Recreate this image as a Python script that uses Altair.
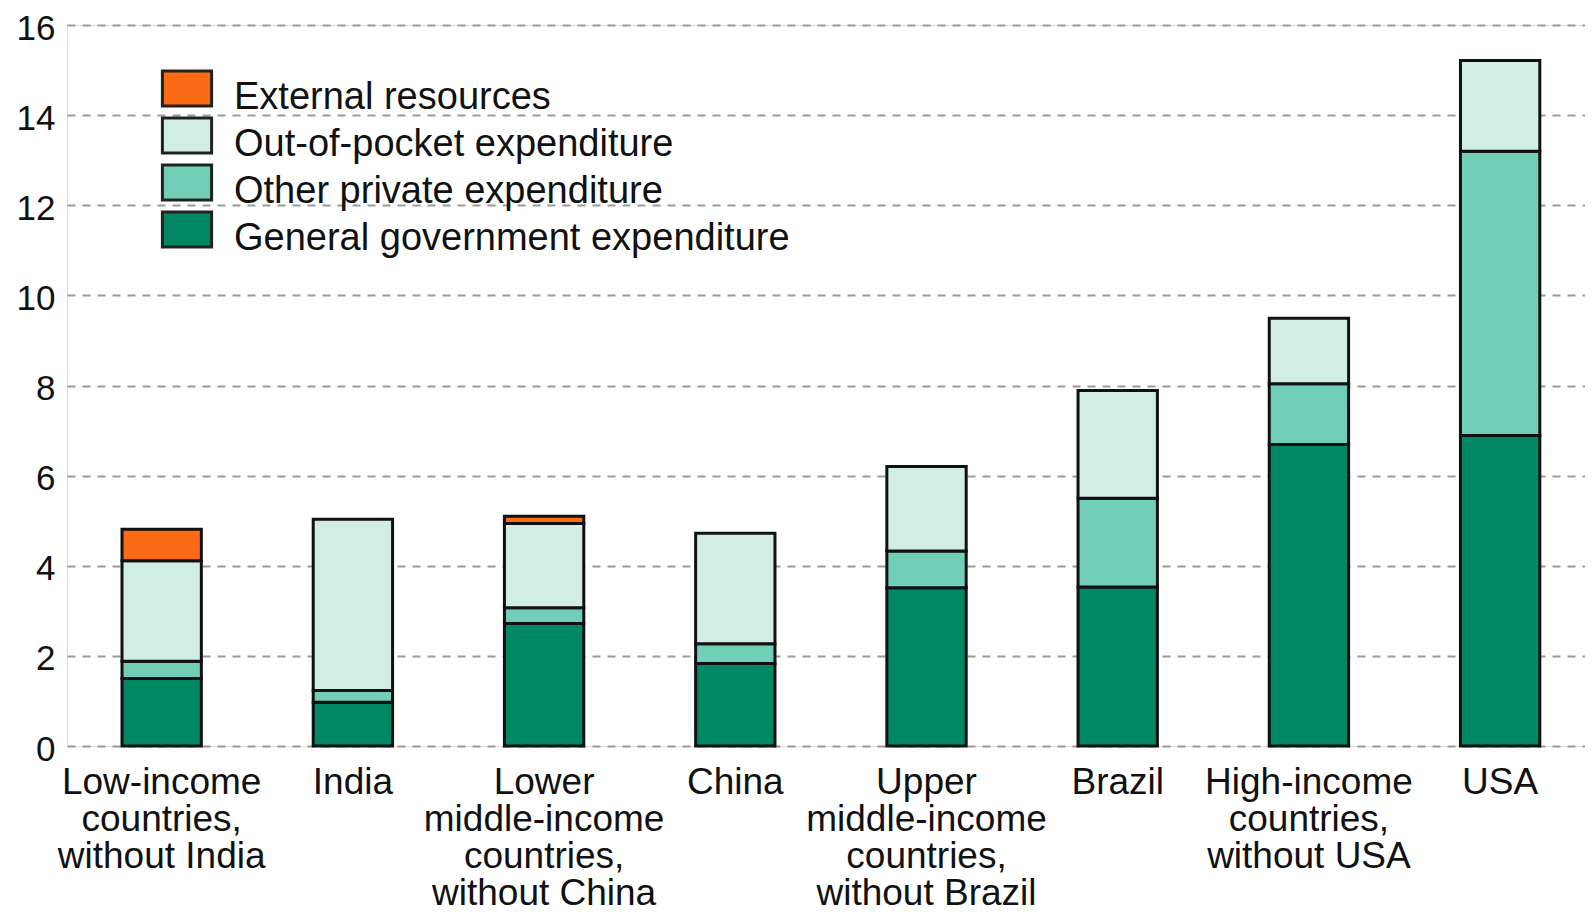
import altair as alt
import pandas as pd

categories = [
    "Low-income|countries,|without India",
    "India",
    "Lower|middle-income|countries,|without China",
    "China",
    "Upper|middle-income|countries,|without Brazil",
    "Brazil",
    "High-income|countries,|without USA",
    "USA",
]
gov = [1.50, 0.97, 2.72, 1.83, 3.51, 3.53, 6.69, 6.89]
other_private = [0.38, 0.26, 0.35, 0.44, 0.82, 1.97, 1.35, 6.31]
out_of_pocket = [2.23, 3.80, 1.87, 2.45, 1.87, 2.39, 1.45, 2.01]
external = [0.70, 0.0, 0.16, 0.0, 0.0, 0.0, 0.0, 0.0]

series_names = [
    "External resources",
    "Out-of-pocket expenditure",
    "Other private expenditure",
    "General government expenditure",
]
series_colors = ["#FB6A15", "#D0EEE3", "#70CFB6", "#008763"]
stack_pos = {
    "General government expenditure": 0,
    "Other private expenditure": 1,
    "Out-of-pocket expenditure": 2,
    "External resources": 3,
}
series_values = {
    "General government expenditure": gov,
    "Other private expenditure": other_private,
    "Out-of-pocket expenditure": out_of_pocket,
    "External resources": external,
}

rows = []
for name, vals in series_values.items():
    for cat, v in zip(categories, vals):
        if v > 0:
            rows.append({"category": cat, "series": name, "value": v, "ord": stack_pos[name]})
df = pd.DataFrame(rows)

font = "Liberation Sans"

chart = (
    alt.Chart(df)
    .mark_bar(stroke="#111111", strokeWidth=3, strokeJoin="miter")
    .encode(
        x=alt.X(
            "category:N",
            sort=categories,
            title=None,
            scale=alt.Scale(paddingInner=0.585, paddingOuter=0.262, align=0.549),
            axis=alt.Axis(
                labelAngle=0,
                labelExpr="split(datum.label, '|')",
                labelFont=font,
                labelFontSize=37,
                labelLineHeight=37,
                labelColor="#111111",
                labelBaseline="top",
                labelPadding=18,
                ticks=False,
                tickSize=0,
                domain=False,
                grid=False,
                labelOverlap=False,
                labelLimit=400,
            ),
        ),
        y=alt.Y(
            "value:Q",
            stack="zero",
            title=None,
            scale=alt.Scale(domain=[0, 16], nice=False),
            axis=alt.Axis(
                values=[0, 2, 4, 6, 8, 10, 12, 14, 16],
                labelFont=font,
                labelFontSize=35,
                labelColor="#111111",
                labelPadding=12,
                labelOffset=3,
                ticks=False,
                tickSize=0,
                domain=False,
                grid=True,
                gridColor="#9a9a9a",
                gridDash=[8, 7],
                gridWidth=2,
            ),
        ),
        color=alt.Color(
            "series:N",
            scale=alt.Scale(domain=series_names, range=series_colors),
            legend=alt.Legend(
                title=None,
                orient="none",
                legendX=98,
                legendY=51,
                padding=0,
                symbolType="M-1.2,-1.32H1.2V0.394H-1.2Z",
                symbolSize=1681,
                symbolStrokeColor="#222222",
                symbolStrokeWidth=3,
                symbolOpacity=1,
                labelFont=font,
                labelFontSize=38,
                labelColor="#111111",
                labelBaseline="middle",
                labelOffset=25,
                rowPadding=-6,
                labelLimit=800,
            ),
        ),
        order=alt.Order("ord:Q", sort="ascending"),
    )
    .properties(
        width=1518,
        height=721,
        autosize=alt.AutoSizeParams(type="none"),
        padding={"left": 59, "top": 17, "right": 0, "bottom": 168},
    )
    .configure_view(stroke=None)
    .configure(background="white")
)

chart.save("out.html", embed_options={"renderer": "svg", "actions": False})
